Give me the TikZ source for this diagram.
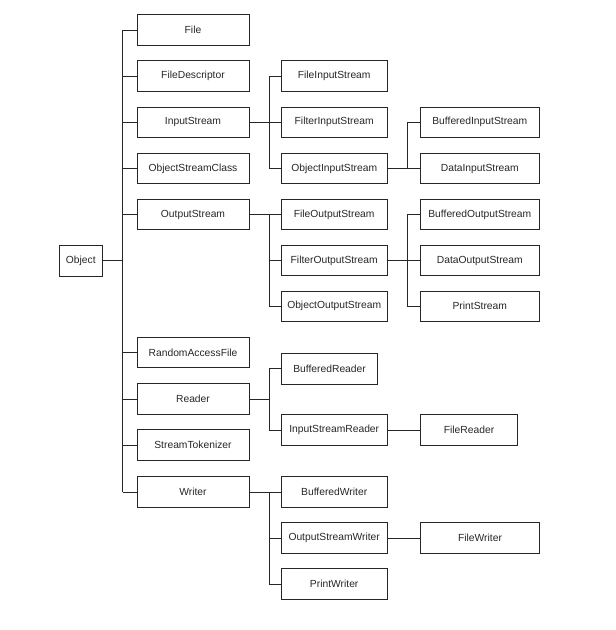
\documentclass[tikz,border=0pt]{standalone}
\usepackage{fontspec}
\setmainfont{Liberation Sans}
\begin{document}
\begin{tikzpicture}[x=1pt,y=-1pt,
  cls/.style={draw=black!85, line width=0.9pt, minimum height=30.5pt, inner sep=0pt,
     font=\fontsize{10.3}{12}\selectfont, text=black!85},
  c1/.style={cls, minimum width=112pt},
  c2/.style={cls, minimum width=105.7pt},
  c3/.style={cls, minimum width=119pt},
  wire/.style={draw=black!85, line width=0.9pt}]
\useasboundingbox (0,0) rectangle (616,630);
% root
\node[cls, minimum width=43.7pt, minimum height=30.3pt] (obj) at (80.8,260.8) {Object};
% column 1
\node[c1] (file) at (193,30) {File};
\node[c1] (fd) at (193,76) {FileDescriptor};
\node[c1] (is) at (193,122.3) {InputStream};
\node[c1] (osc) at (193,168.6) {ObjectStreamClass};
\node[c1] (os) at (193,214.5) {OutputStream};
\node[c1] (raf) at (193,352.5) {RandomAccessFile};
\node[c1] (rd) at (193,399) {Reader};
\node[c1] (st) at (193,445) {StreamTokenizer};
\node[c1] (wr) at (193,492) {Writer};
% column 2
\node[c2] (fis) at (334.2,76) {FileInputStream};
\node[c2] (filis) at (334.2,122.3) {FilterInputStream};
\node[c2] (ois) at (334.2,168.6) {ObjectInputStream};
\node[c2] (fos) at (334.2,214.5) {FileOutputStream};
\node[c2] (filos) at (334.2,260.5) {FilterOutputStream};
\node[c2] (oos) at (334.2,306.3) {ObjectOutputStream};
\node[cls, minimum width=96.2pt] (br) at (329.6,368.7) {BufferedReader};
\node[c2] (isr) at (334.2,430) {InputStreamReader};
\node[c2] (bw) at (334.2,492) {BufferedWriter};
\node[c2] (osw) at (334.2,538) {OutputStreamWriter};
\node[c2] (pw) at (334.2,584) {PrintWriter};
% column 3
\node[c3] (bis) at (479.8,122.3) {BufferedInputStream};
\node[c3] (dis) at (479.8,168.6) {DataInputStream};
\node[c3] (bos) at (479.8,214.5) {BufferedOutputStream};
\node[c3] (dos) at (479.8,260.5) {DataOutputStream};
\node[c3] (ps) at (479.8,306.3) {PrintStream};
\node[cls, minimum width=96.6pt] (fr) at (469,430) {FileReader};
\node[cls, minimum width=118.6pt] (fw) at (480,538) {FileWriter};
% trunk coordinates
\coordinate (t0) at (122.7,0);
\coordinate (t1) at (269,0);
\coordinate (t2) at (407,0);
% Object group
\draw[wire] (obj.east) -- (t0 |- obj.east);
\draw[wire] (t0 |- file.west) -- (t0 |- wr.west);
\foreach \n in {file,fd,is,osc,os,raf,rd,st,wr} \draw[wire] (t0 |- \n.west) -- (\n.west);
% InputStream group
\draw[wire] (is.east) -- (t1 |- is.east);
\draw[wire] (t1 |- fis.west) -- (t1 |- ois.west);
\foreach \n in {fis,filis,ois} \draw[wire] (t1 |- \n.west) -- (\n.west);
% ObjectInputStream group
\draw[wire] (ois.east) -- (t2 |- ois.east);
\draw[wire] (t2 |- bis.west) -- (t2 |- dis.west);
\foreach \n in {bis,dis} \draw[wire] (t2 |- \n.west) -- (\n.west);
% OutputStream group
\draw[wire] (os.east) -- (t1 |- os.east);
\draw[wire] (t1 |- fos.west) -- (t1 |- oos.west);
\foreach \n in {fos,filos,oos} \draw[wire] (t1 |- \n.west) -- (\n.west);
% FilterOutputStream group
\draw[wire] (filos.east) -- (t2 |- filos.east);
\draw[wire] (t2 |- bos.west) -- (t2 |- ps.west);
\foreach \n in {bos,dos,ps} \draw[wire] (t2 |- \n.west) -- (\n.west);
% Reader group
\draw[wire] (rd.east) -- (t1 |- rd.east);
\draw[wire] (t1 |- br.west) -- (t1 |- isr.west);
\foreach \n in {br,isr} \draw[wire] (t1 |- \n.west) -- (\n.west);
\draw[wire] (isr.east) -- (fr.west);
% Writer group
\draw[wire] (wr.east) -- (t1 |- wr.east);
\draw[wire] (t1 |- bw.west) -- (t1 |- pw.west);
\foreach \n in {bw,osw,pw} \draw[wire] (t1 |- \n.west) -- (\n.west);
\draw[wire] (osw.east) -- (fw.west);
\end{tikzpicture}
\end{document}
